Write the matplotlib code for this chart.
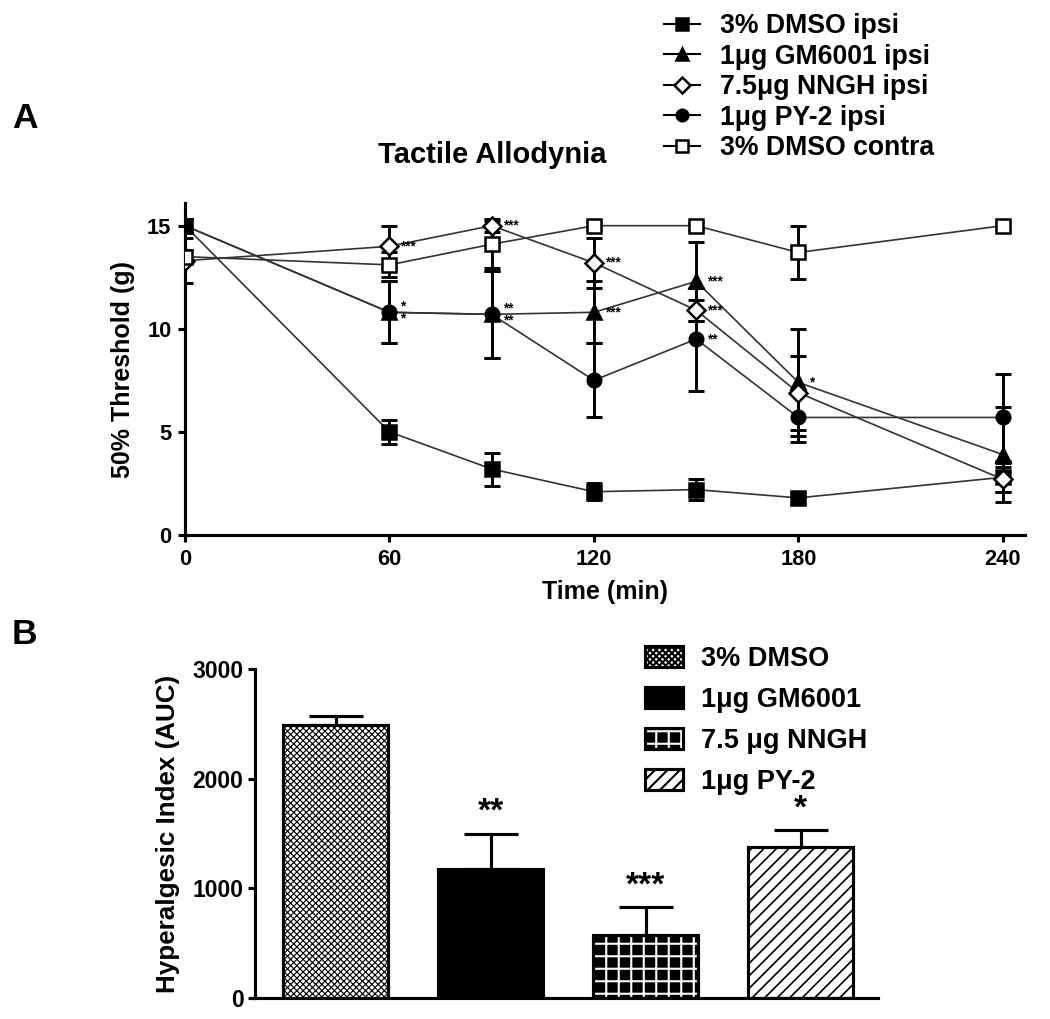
import matplotlib
matplotlib.use('Agg')
import matplotlib.pyplot as plt
from matplotlib.patches import Patch
from matplotlib.lines import Line2D
from matplotlib.legend_handler import HandlerTuple

plt.rcParams['font.family'] = ['Liberation Sans', 'DejaVu Sans']
plt.rcParams['font.weight'] = 'bold'

# panel A data (time course)
time = [0, 60, 90, 120, 150, 180, 240]
dmso_ipsi = [15.0, 5.0, 3.2, 2.1, 2.2, 1.8, 2.8]
dmso_ipsi_err = [0.3, 0.6, 0.8, 0.4, 0.5, 0.3, 0.7]
gm6001 = [15.0, 10.8, 10.7, 10.8, 12.3, 7.4, 3.9]
gm6001_err = [0.3, 1.5, 2.1, 1.5, 1.9, 2.6, 2.3]
nngh = [13.3, 14.0, 15.0, 13.2, 10.9, 6.9, 2.7]
nngh_err = [1.1, 1.0, 0.3, 1.2, 0.5, 1.8, 0.6]
py2 = [15.0, 10.8, 10.7, 7.5, 9.5, 5.7, 5.7]
py2_err = [0.3, 1.5, 2.1, 1.8, 2.5, 1.2, 2.1]
contra = [13.5, 13.1, 14.1, 15.0, 15.0, 13.7, 15.0]
contra_err = [0.3, 0.6, 1.15, 0.2, 0.2, 1.3, 0.2]

# significance marks: (time, y, text)
stars_a = [(60, 14.0, '***'), (60, 11.1, '*'), (60, 10.5, '*'),
           (90, 15.0, '***'), (90, 11.0, '**'), (90, 10.4, '**'),
           (120, 13.2, '***'), (120, 10.8, '***'),
           (150, 12.3, '***'), (150, 10.9, '***'), (150, 9.5, '**'),
           (180, 7.4, '*')]

# panel B data (AUC)
groups = ['3% DMSO', '1μg GM6001', '7.5 μg NNGH', '1μg PY-2']
auc = [2490, 1180, 575, 1380]
auc_err = [80, 320, 255, 155]
stars_b = ['', '**', '***', '*']

W, H = 1050, 1019
fig = plt.figure(figsize=(7, 7 * H / W), dpi=150)

# ---------------- panel A ----------------
ax = fig.add_axes([185 / W, 1 - 535 / H, 840 / W, 332 / H])
series = [
    (dmso_ipsi, dmso_ipsi_err, 's', 'black', 7, '3% DMSO ipsi'),
    (gm6001, gm6001_err, '^', 'black', 7, '1μg GM6001 ipsi'),
    (nngh, nngh_err, 'D', 'white', 6, '7.5μg NNGH ipsi'),
    (py2, py2_err, 'o', 'black', 6.5, '1μg PY-2 ipsi'),
    (contra, contra_err, 's', 'white', 6.5, '3% DMSO contra'),
]
handles = []
for vals, err, mk, fc, ms, lab in series:
    ax.errorbar(time, vals, yerr=err, fmt='none', ecolor='black',
                elinewidth=1.4, capsize=4, capthick=1.4, zorder=2)
    ax.plot(time, vals, color='#333333', lw=0.8, zorder=3)
    ax.plot(time, vals, ls='none', marker=mk, ms=ms, mfc=fc, mec='black',
            mew=1.2, zorder=4)
    handles.append(Line2D([], [], color='black', lw=1.0, marker=mk, ms=ms * 0.85,
                          mfc=fc, mec='black', mew=1.2, label=lab))

for t, y, s in stars_a:
    ax.text(t + 3.5, y, s, fontsize=6.5, ha='left', va='center')

ax.set_xlim(0, 246.5)
ax.set_ylim(0, 16.1)
ax.set_xticks([0, 60, 120, 180, 240])
ax.set_yticks([0, 5, 10, 15])
ax.spines['top'].set_visible(False)
ax.spines['right'].set_visible(False)
for sp in ['left', 'bottom']:
    ax.spines[sp].set_linewidth(1.5)
ax.tick_params(width=1.5, length=3.5, labelsize=10.5, pad=3)
ax.set_xlabel('Time (min)', fontsize=12, fontweight='bold', labelpad=5)
ax.set_ylabel('50% Threshold (g)', fontsize=12, fontweight='bold', labelpad=6)
for lbl in ax.get_xticklabels() + ax.get_yticklabels():
    lbl.set_fontweight('bold')

fig.text(492 / W, 1 - 155 / H, 'Tactile Allodynia', fontsize=14,
         fontweight='bold', ha='center', va='center')
fig.legend(handles=handles, loc='upper left', bbox_to_anchor=(664 / W, 1 - 13 / H),
           frameon=False, fontsize=12.8, handlelength=1.35, handletextpad=0.75,
           labelspacing=0.17, borderpad=0, borderaxespad=0)

# ---------------- panel B ----------------
bx = fig.add_axes([255 / W, 1 - 998 / H, 623 / W, 329 / H])
x = list(range(len(groups)))
bw = 0.68
bx.errorbar(x, auc, yerr=[[0] * 4, auc_err], fmt='none', ecolor='black',
            elinewidth=1.5, capsize=13, capthick=1.5, zorder=1)

b1 = bx.bar(x[0], auc[0], bw, color='white', edgecolor='black', hatch='xxxxxxxx',
            lw=1.5, zorder=2)
b2 = bx.bar(x[1], auc[1], bw, color='black', edgecolor='black', lw=1.5, zorder=2)
b3 = bx.bar(x[2], auc[2], bw, color='black', edgecolor='white', hatch='++',
            lw=0, zorder=2)
bx.bar(x[2], auc[2], bw, color='none', edgecolor='black', lw=1.5, zorder=3)
b4 = bx.bar(x[3], auc[3], bw, color='white', edgecolor='black', hatch='////',
            lw=1.5, zorder=2)
for bars, hl in [(b1, 0.55), (b3, 1.0), (b4, 0.8)]:
    for p in bars:
        if hasattr(p, 'set_hatch_linewidth'):
            p.set_hatch_linewidth(hl)

for xi, v, e, s in zip(x, auc, auc_err, stars_b):
    if s:
        bx.text(xi, v + e + 50, s, fontsize=16, ha='center', va='bottom',
                fontweight='bold')

bx.set_xlim(-0.52, 3.5)
bx.set_ylim(0, 3000)
bx.set_xticks([])
bx.set_yticks([0, 1000, 2000, 3000])
bx.spines['top'].set_visible(False)
bx.spines['right'].set_visible(False)
for sp in ['left', 'bottom']:
    bx.spines[sp].set_linewidth(1.5)
bx.tick_params(axis='y', width=1.5, length=3.5, labelsize=11, pad=2)
for lbl in bx.get_yticklabels():
    lbl.set_fontweight('bold')
bx.set_ylabel('Hyperalgesic Index (AUC)', fontsize=12.5, fontweight='bold', labelpad=6)

lh = [Patch(facecolor='white', edgecolor='black', hatch='xxxxxxxx', lw=1.5),
      Patch(facecolor='black', edgecolor='black', lw=1.5),
      (Patch(facecolor='black', edgecolor='white', hatch='++', lw=0),
       Patch(facecolor='none', edgecolor='black', lw=1.5)),
      Patch(facecolor='white', edgecolor='black', hatch='////', lw=1.5)]
fig.legend(lh, groups, loc='upper left', bbox_to_anchor=(645 / W, 1 - 646 / H),
           frameon=False, fontsize=13, handlelength=1.4, handleheight=0.8,
           handletextpad=0.65, labelspacing=0.55, borderpad=0, borderaxespad=0,
           handler_map={tuple: HandlerTuple(ndivide=1, pad=0)})

fig.text(12 / W, 1 - 118 / H, 'A', fontsize=17, fontweight='bold', va='center')
fig.text(12 / W, 1 - 635 / H, 'B', fontsize=17, fontweight='bold', va='center')

fig.savefig('out.png', dpi=150)
